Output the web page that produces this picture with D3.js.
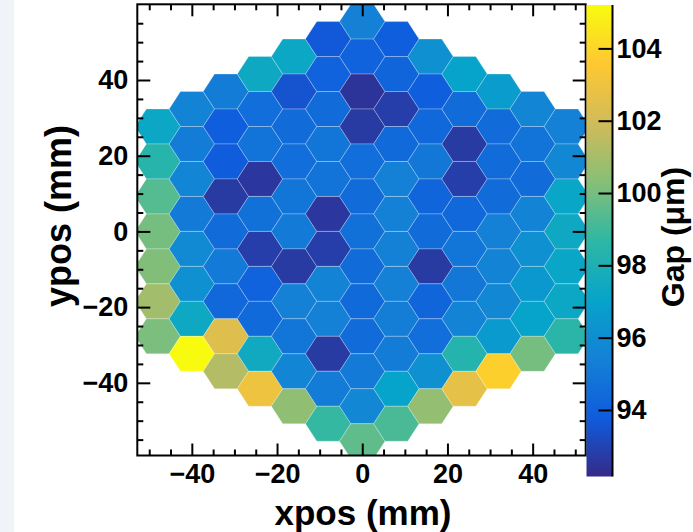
<!DOCTYPE html>
<html>
<head>
<meta charset="utf-8">
<script src="https://cdn.jsdelivr.net/npm/d3@7"></script>
<style>
  body { margin: 0; background: #fff; }
  svg text { font-family: "Liberation Sans", Arial, sans-serif; font-weight: bold; fill: #000; }
</style>
</head>
<body>
<svg id="chart" width="693" height="532"></svg>
<script>
// hex cell centres along x (mm), one column each
var xCenters = [-48, -40, -32, -24, -16, -8, 0, 8, 16, 24, 32, 40, 48];
// gap values (um) per column, read top to bottom
var gapColM6 = [97.3, 98.4, 99.4, 100.0, 100.2, 100.9, 100.1];
var gapColM5 = [95.5, 95.2, 95.6, 95.1, 95.8, 96.1, 97.4, 105.2];
var gapColM4 = [95.2, 93.9, 93.8, 92.7, 94.5, 95.1, 94.3, 102.4, 101.3];
var gapColM3 = [97.4, 94.6, 94.8, 92.6, 94.7, 92.8, 94.1, 94.4, 97.5, 103.0];
var gapColM2 = [97.3, 93.5, 94.5, 94.6, 94.9, 95.1, 92.7, 95.4, 94.9, 95.6, 100.5];
var gapColM1 = [93.7, 94.1, 94.5, 94.9, 94.8, 92.6, 92.8, 95.5, 95.4, 92.7, 95.2, 98.8];
var gapCol0  = [95.4, 94.1, 92.5, 92.7, 94.6, 94.5, 94.7, 94.5, 94.4, 94.5, 95.1, 95.7, 99.6];
var gapColP1 = [93.9, 94.2, 92.8, 94.4, 95.4, 95.4, 95.4, 95.4, 95.3, 95.2, 97.0, 99.2];
var gapColP2 = [96.1, 93.9, 94.3, 95.0, 94.2, 94.5, 92.7, 94.2, 94.6, 96.1, 100.6];
var gapColP3 = [97.0, 94.5, 92.7, 92.8, 94.3, 94.9, 95.0, 95.5, 98.3, 102.7];
var gapColP4 = [96.7, 94.5, 94.5, 94.5, 95.4, 95.5, 95.7, 96.6, 103.8];
var gapColP5 = [95.6, 94.8, 94.5, 95.5, 96.1, 96.5, 97.0, 100.0];
var gapColP6 = [95.4, 95.7, 97.2, 97.4, 97.2, 97.3, 98.5];
var gapColumns = [gapColM6, gapColM5, gapColM4, gapColM3, gapColM2, gapColM1, gapCol0,
                  gapColP1, gapColP2, gapColP3, gapColP4, gapColP5, gapColP6];

var xTicks = [-40, -20, 0, 20, 40];
var yTicks = [-40, -20, 0, 20, 40];
var zTicks = [94, 96, 98, 100, 102, 104];
var zRange = [92.16, 105.2];
// ROOT kBird palette
var birdStops = [0, 0.125, 0.25, 0.375, 0.5, 0.625, 0.75, 0.875, 1];
var birdColors = ["#352a87", "#0f5cdd", "#1481d6", "#06a4ca", "#2eb7a4",
                  "#87bf77", "#d1bb59", "#fec832", "#f9fb0e"];

var svg = d3.select("#chart");
svg.append("rect").attr("width", 693).attr("height", 532).attr("fill", "#fff");
svg.append("rect").attr("width", 14).attr("height", 532).attr("fill", "#f0f4f9");

var frameL = 137.3, frameR = 585.7, frameT = 4.3, frameB = 455.5;
var x = d3.scaleLinear().domain([-52.8, 52.45]).range([frameL, frameR]);
var y = d3.scaleLinear().domain([-59.2, 60.0]).range([frameB, frameT]);

var color = d3.scaleLinear()
    .domain(birdStops.map(function(t) { return zRange[0] + t * (zRange[1] - zRange[0]); }))
    .range(birdColors)
    .clamp(true);

// build hex cells
var pitchX = 8;
var R = pitchX / 1.5;
var pitchY = Math.sqrt(3) * R;
var cells = [];
gapColumns.forEach(function(col, i) {
    var n = col.length;
    var yTop = (n - 1) / 2 * pitchY;
    col.forEach(function(v, j) {
        cells.push({ x: xCenters[i], y: yTop - j * pitchY, value: v });
    });
});

function hexPoints(d) {
    var h = pitchY / 2;
    var pts = [[d.x + R, d.y], [d.x + R / 2, d.y + h], [d.x - R / 2, d.y + h],
               [d.x - R, d.y], [d.x - R / 2, d.y - h], [d.x + R / 2, d.y - h]];
    return pts.map(function(p) { return x(p[0]) + "," + y(p[1]); }).join(" ");
}

svg.append("clipPath").attr("id", "frameClip")
    .append("rect").attr("x", frameL).attr("y", frameT)
    .attr("width", frameR - frameL).attr("height", frameB - frameT);

svg.append("g").attr("clip-path", "url(#frameClip)")
    .selectAll("polygon")
    .data(cells)
    .enter().append("polygon")
    .attr("points", hexPoints)
    .attr("fill", function(d) { return color(d.value); })
    .attr("stroke", "#ffffff")
    .attr("stroke-opacity", 0.25)
    .attr("stroke-width", 1);

// ticks, all inward
function minorOf(major, lo, hi) {
    var out = [];
    for (var v = lo; v <= hi; v += 5) if (major.indexOf(v) < 0) out.push(v);
    return out;
}
var xMinor = minorOf(xTicks, -50, 50);
var yMinor = minorOf(yTicks, -55, 55);

function styleAxis(g) {
    g.select(".domain").remove();
    g.selectAll(".tick line").attr("stroke", "#000").attr("stroke-width", 2);
    g.selectAll(".tick text").attr("font-size", 27);
}
function minusFmt(d) { return d < 0 ? "\u2212" + (-d) : d; }

svg.append("g").attr("transform", "translate(0," + frameB + ")")
    .call(d3.axisBottom(x).tickValues(xTicks).tickSize(-12).tickPadding(8).tickFormat(minusFmt))
    .call(styleAxis);
svg.append("g").attr("transform", "translate(0," + frameB + ")")
    .call(d3.axisBottom(x).tickValues(xMinor).tickSize(-6).tickFormat(""))
    .call(styleAxis);
svg.append("g").attr("transform", "translate(0," + frameT + ")")
    .call(d3.axisTop(x).tickValues(xTicks).tickSize(-12).tickFormat(""))
    .call(styleAxis);
svg.append("g").attr("transform", "translate(0," + frameT + ")")
    .call(d3.axisTop(x).tickValues(xMinor).tickSize(-6).tickFormat(""))
    .call(styleAxis);

svg.append("g").attr("transform", "translate(" + frameL + ",0)")
    .call(d3.axisLeft(y).tickValues(yTicks).tickSize(-13).tickPadding(9).tickFormat(minusFmt))
    .call(styleAxis);
svg.append("g").attr("transform", "translate(" + frameL + ",0)")
    .call(d3.axisLeft(y).tickValues(yMinor).tickSize(-6).tickFormat(""))
    .call(styleAxis);
svg.append("g").attr("transform", "translate(" + frameR + ",0)")
    .call(d3.axisRight(y).tickValues(yTicks).tickSize(-13).tickFormat(""))
    .call(styleAxis);
svg.append("g").attr("transform", "translate(" + frameR + ",0)")
    .call(d3.axisRight(y).tickValues(yMinor).tickSize(-6).tickFormat(""))
    .call(styleAxis);

svg.append("rect")
    .attr("x", frameL).attr("y", frameT)
    .attr("width", frameR - frameL).attr("height", frameB - frameT)
    .attr("fill", "none").attr("stroke", "#000").attr("stroke-width", 2);

// colour bar
var barL = 586.5, barR = 612.5, barT = 5, barB = 476.5;
var z = d3.scaleLinear().domain(zRange).range([barB, barT]);
var grad = svg.append("defs").append("linearGradient")
    .attr("id", "birdGrad").attr("x1", 0).attr("y1", 1).attr("x2", 0).attr("y2", 0);
grad.selectAll("stop").data(birdStops).enter().append("stop")
    .attr("offset", function(t) { return t; })
    .attr("stop-color", function(t, i) { return birdColors[i]; });
svg.append("rect")
    .attr("x", barL).attr("y", barT)
    .attr("width", barR - barL).attr("height", barB - barT)
    .attr("fill", "url(#birdGrad)");
svg.append("g").attr("transform", "translate(" + barR + ",0)")
    .call(d3.axisRight(z).tickValues(zTicks).tickSize(-14).tickPadding(4))
    .call(styleAxis);
svg.append("line")
    .attr("x1", barR).attr("x2", barR)
    .attr("y1", barT).attr("y2", barB)
    .attr("stroke", "#000").attr("stroke-width", 2);

// titles
svg.append("text")
    .attr("x", 363).attr("y", 525)
    .attr("text-anchor", "middle").attr("font-size", 35)
    .text("xpos (mm)");
svg.append("text")
    .attr("transform", "translate(71,216) rotate(-90)")
    .attr("text-anchor", "middle").attr("font-size", 36)
    .text("ypos (mm)");
svg.append("text")
    .attr("transform", "translate(684,237) rotate(-90)")
    .attr("text-anchor", "middle").attr("font-size", 32)
    .text("Gap (\u03bcm)");
</script>
</body>
</html>
